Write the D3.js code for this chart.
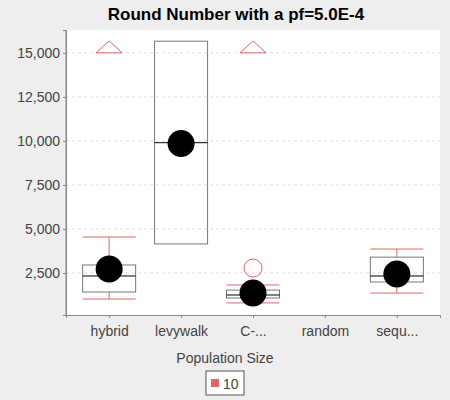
<!DOCTYPE html>
<html><head><meta charset="utf-8">
<script src="https://cdn.jsdelivr.net/npm/d3@7"></script>
<style>body{margin:0;background:#eeeeee;font-family:"Liberation Sans",Arial,sans-serif;}</style>
</head><body><svg id="c" width="450" height="400" font-family="Liberation Sans, Arial, sans-serif"></svg>
<script>
var categories = ['hybrid','levywalk','C-...','random','sequ...'];
var boxes = [
  {cat:'hybrid', lo:1020, q1:1420, med:2330, q3:2955, hi:4545, mean:2730, far:[15000], out:[]},
  {cat:'levywalk', lo:null, q1:4150, med:9900, q3:15665, hi:null, mean:9850, far:[], out:[]},
  {cat:'C-...', lo:800, q1:1080, med:1250, q3:1530, hi:1820, mean:1360, far:[15000], out:[2780]},
  {cat:'sequ...', lo:1360, q1:1990, med:2330, q3:3400, hi:3860, mean:2440, far:[], out:[]}
];
var yTicks = [2500,5000,7500,10000,12500,15000];
var red = '#e06666';

var svg = d3.select('#c');
var L=66, R=440, T=30, B=315;
svg.append('rect').attr('x',L).attr('y',T).attr('width',R-L).attr('height',B-T).attr('fill','#fff');
var x = d3.scalePoint().domain(categories).range([L,R]).padding(0.6);
var y = d3.scaleLinear().domain([114,16300]).range([B,T]);

svg.selectAll('.grid').data(yTicks).enter().append('line')
  .attr('x1',L).attr('x2',R).attr('y1',d=>y(d)).attr('y2',d=>y(d))
  .attr('stroke','#ddd').attr('stroke-dasharray','3,3');

var ya = svg.append('g').attr('transform','translate('+L+',0)')
  .call(d3.axisLeft(y).tickValues(yTicks).tickFormat(d3.format(',')).tickSize(3));
var xa = svg.append('g').attr('transform','translate(0,'+B+')')
  .call(d3.axisBottom(x).tickSize(3));
[ya,xa].forEach(function(a){
  a.attr('font-family',null);
  a.select('.domain').attr('stroke','#888');
  a.selectAll('.tick line').attr('stroke','#888');
  a.selectAll('text').attr('font-size',14).attr('fill','#444');
});
xa.selectAll('text').attr('dy','1.1em');
svg.append('line').attr('x1',L).attr('x2',L).attr('y1',T).attr('y2',B).attr('stroke','#888');

var w = 53;
var g = svg.selectAll('.box').data(boxes).enter().append('g').attr('transform',d=>'translate('+x(d.cat)+',0)');
g.filter(d=>d.hi!=null).each(function(d){
  var s=d3.select(this);
  s.append('line').attr('x1',0).attr('x2',0).attr('y1',y(d.q3)).attr('y2',y(d.hi)).attr('stroke',red);
  s.append('line').attr('x1',0).attr('x2',0).attr('y1',y(d.q1)).attr('y2',y(d.lo)).attr('stroke',red);
  s.append('line').attr('x1',-w/2).attr('x2',w/2).attr('y1',y(d.hi)).attr('y2',y(d.hi)).attr('stroke',red);
  s.append('line').attr('x1',-w/2).attr('x2',w/2).attr('y1',y(d.lo)).attr('y2',y(d.lo)).attr('stroke',red);
});
g.append('rect').attr('x',-w/2).attr('width',w).attr('y',d=>y(d.q3)).attr('height',d=>y(d.q1)-y(d.q3))
  .attr('fill','none').attr('stroke','#777');
g.append('line').attr('x1',-w/2).attr('x2',w/2).attr('y1',d=>y(d.med)).attr('y2',d=>y(d.med)).attr('stroke','#000');
g.selectAll('.out').data(d=>d.out).enter().append('circle').attr('cy',d=>y(d)).attr('r',9)
  .attr('fill','none').attr('stroke',red);
g.selectAll('.far').data(d=>d.far).enter().append('path')
  .attr('d',d=>'M0,'+(y(d)-12)+'L13,'+y(d)+'L-13,'+y(d)+'Z').attr('fill','none').attr('stroke',red);
g.append('circle').attr('cy',d=>y(d.mean)).attr('r',13.5).attr('fill','#000');

svg.append('text').attr('x',236).attr('y',20).attr('text-anchor','middle')
  .attr('font-size',17).attr('font-weight','bold').text('Round Number with a pf=5.0E-4');
svg.append('text').attr('x',225).attr('y',363).attr('text-anchor','middle')
  .attr('font-size',14).attr('fill','#444').text('Population Size');
svg.append('rect').attr('x',206).attr('y',371).attr('width',38).attr('height',24).attr('fill','#fff').attr('stroke','#555');
svg.append('rect').attr('x',211).attr('y',379).attr('width',8).attr('height',8).attr('fill',red);
svg.append('text').attr('x',223).attr('y',389).attr('font-size',14).attr('fill','#444').text('10');
</script></body></html>
